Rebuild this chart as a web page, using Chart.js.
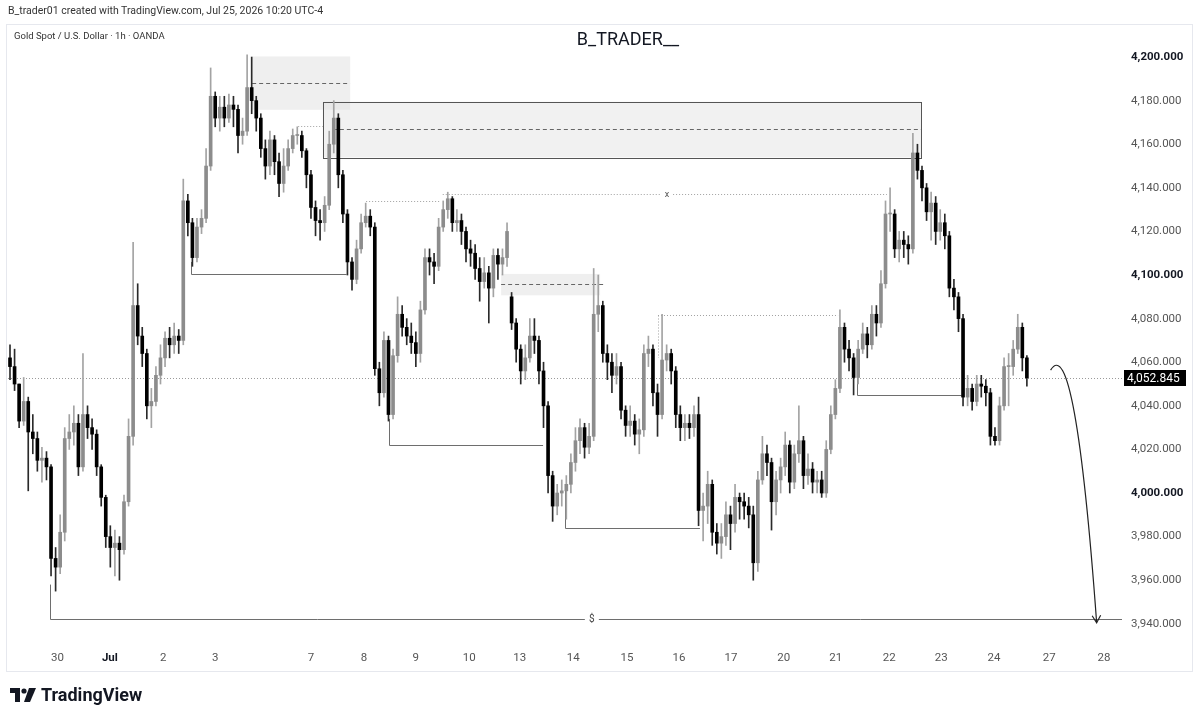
<!DOCTYPE html>
<html lang="en">
<head>
  <meta charset="UTF-8" />
  <title>XAUUSD 1h - B_TRADER__</title>
  <script src="https://cdn.jsdelivr.net/npm/chart.js@4.4.1/dist/chart.umd.min.js"></script>
  <style>
    body {
      margin: 0;
      background: #ffffff;
      font-family: Roboto, 'Noto Sans', sans-serif;
      color: #131722;
    }

    .page {
      position: relative;
      width: 1200px;
      height: 721px;
      overflow: hidden;
    }

    .frame {
      position: absolute;
      left: 6px;
      top: 24px;
      width: 1185px;
      height: 646px;
      border: 1px solid #e6e8ee;
    }

    #chart {
      position: absolute;
      left: 0;
      top: 0;
    }

    .credit {
      position: absolute;
      left: 8px;
      top: 4px;
      font-size: 10.5px;
      color: #333;
    }

    .symbol {
      position: absolute;
      left: 14px;
      top: 30px;
      font-size: 9.5px;
      color: #333;
    }

    .title {
      position: absolute;
      left: 528px;
      width: 200px;
      top: 28px;
      text-align: center;
      font-size: 18px;
      color: #131722;
    }

    .logo {
      position: absolute;
      left: 10px;
      top: 684px;
      display: flex;
      align-items: center;
      gap: 5px;
      font-size: 18px;
      font-weight: bold;
      color: #131722;
    }
  </style>
</head>
<body>
  <div class="page">
    <div class="frame"></div>
    <canvas id="chart" width="1200" height="721"></canvas>
    <div class="credit">B_trader01 created with TradingView.com, Jul 25, 2026 10:20 UTC-4</div>
    <div class="symbol">Gold Spot / U.S. Dollar · 1h · OANDA</div>
    <div class="title">B_TRADER__</div>
    <div class="logo">
      <svg width="26" height="14" viewBox="0 0 26 14">
        <path d="M0 0 H10 V14 H5 V5 H0 Z" fill="#131722"/>
        <circle cx="14" cy="3" r="2.6" fill="#131722"/>
        <path d="M19 0 H26 L20 14 H14 Z" fill="#131722"/>
      </svg>
      <span>TradingView</span>
    </div>
  </div>

  <script>
    // 2h candles (index 0 = first bar on the left)
    const opens = [
      4062, 4058, 4050, 4033, 4042, 4028, 4025, 4015, 4016, 4012, 3970, 3966,
      3982, 4025, 4028, 4032, 4012, 4036, 4030, 4027, 4012, 3998, 3980, 3975,
      3977, 3974, 3996, 4026, 4086, 4072, 4064, 4040, 4042, 4054, 4062, 4071,
      4068, 4072, 4070, 4134, 4124, 4108, 4122, 4126, 4150, 4182, 4172, 4177,
      4172, 4178, 4176, 4164, 4166, 4186, 4180, 4172, 4158, 4150, 4162, 4152,
      4142, 4150, 4158, 4164, 4164, 4157, 4146, 4131, 4125, 4124, 4132, 4160,
      4172, 4146, 4128, 4106, 4098, 4112, 4124, 4127, 4122, 4057, 4046, 4070,
      4036, 4063, 4082, 4076, 4072, 4069, 4064, 4084, 4108, 4106, 4104, 4122,
      4130, 4135, 4124, 4125, 4120, 4112, 4110, 4103, 4097, 4101, 4094, 4109,
      4105, 4108, 4090, 4078, 4066, 4056, 4062, 4072, 4070, 4056, 4040, 4008,
      3994, 4000, 4001, 4004, 4014, 4024, 4030, 4021, 4026, 4082, 4086, 4064,
      4060, 4054, 4058, 4038, 4031, 4033, 4027, 4029, 4064, 4066, 4046, 4036,
      4061, 4064, 4056, 4036, 4030, 4032, 4030, 4036, 3992, 3994, 4004, 3982,
      3977, 3980, 3990, 3986, 3998, 3996, 3994, 3990, 3968, 4006, 4018, 4014,
      3996, 4006, 4012, 4022, 4005, 4018, 4024, 4008, 4011, 4005, 4006, 4000,
      4020, 4036, 4048, 4076, 4066, 4062, 4053, 4066, 4073, 4068, 4082, 4078,
      4096, 4128, 4128, 4112, 4116, 4114, 4112, 4156, 4148, 4140, 4129, 4133,
      4120, 4124, 4118, 4094, 4090, 4080, 4044, 4048, 4042, 4050, 4049, 4046,
      4026, 4024, 4040, 4058, 4058, 4066, 4076, 4062
    ];
    const closes = [
      4058, 4050, 4033, 4042, 4028, 4025, 4015, 4016, 4012, 3970, 3966, 3982,
      4025, 4028, 4032, 4012, 4036, 4030, 4027, 4012, 3998, 3980, 3975, 3977,
      3974, 3996, 4026, 4086, 4072, 4064, 4040, 4042, 4054, 4062, 4071, 4068,
      4072, 4070, 4134, 4124, 4108, 4122, 4126, 4150, 4182, 4172, 4177, 4172,
      4178, 4176, 4164, 4166, 4186, 4180, 4172, 4158, 4150, 4162, 4152, 4142,
      4150, 4158, 4164, 4164, 4157, 4146, 4131, 4125, 4124, 4132, 4160, 4172,
      4146, 4128, 4106, 4098, 4112, 4124, 4127, 4122, 4057, 4046, 4070, 4036,
      4063, 4082, 4076, 4072, 4069, 4064, 4084, 4108, 4106, 4104, 4122, 4130,
      4135, 4124, 4125, 4120, 4112, 4110, 4103, 4097, 4101, 4094, 4109, 4105,
      4108, 4120, 4078, 4066, 4056, 4062, 4072, 4070, 4056, 4040, 4008, 3994,
      4000, 4001, 4004, 4014, 4024, 4030, 4021, 4026, 4082, 4086, 4064, 4060,
      4054, 4058, 4038, 4031, 4033, 4027, 4029, 4064, 4066, 4046, 4036, 4061,
      4064, 4056, 4036, 4030, 4032, 4030, 4036, 3992, 3994, 4004, 3982, 3977,
      3980, 3990, 3986, 3998, 3996, 3994, 3990, 3968, 4006, 4018, 4014, 3996,
      4006, 4012, 4022, 4005, 4018, 4024, 4008, 4011, 4005, 4006, 4000, 4020,
      4036, 4048, 4076, 4066, 4062, 4053, 4066, 4073, 4068, 4082, 4078, 4096,
      4128, 4128, 4112, 4116, 4114, 4112, 4156, 4148, 4140, 4129, 4133, 4120,
      4124, 4118, 4094, 4090, 4080, 4044, 4048, 4042, 4050, 4049, 4046, 4026,
      4024, 4040, 4058, 4058, 4066, 4076, 4062, 4052.845
    ];
    const highs = [
      4068, 4066, 4050, 4053, 4044, 4036, 4028, 4021, 4019, 4013, 3975, 3990,
      4030, 4036, 4040, 4036, 4064, 4040, 4034, 4029, 4013, 3999, 3985, 3983,
      3980, 3999, 4034, 4115, 4096, 4076, 4066, 4048, 4058, 4068, 4074, 4076,
      4078, 4075, 4144, 4137, 4126, 4126, 4130, 4158, 4195, 4184, 4182, 4182,
      4183, 4182, 4178, 4172, 4201, 4200, 4182, 4174, 4162, 4166, 4164, 4156,
      4158, 4162, 4167, 4168, 4166, 4158, 4148, 4134, 4130, 4136, 4166, 4180,
      4174, 4148, 4130, 4108, 4116, 4128, 4133, 4130, 4124, 4060, 4074, 4072,
      4066, 4090, 4086, 4080, 4078, 4074, 4088, 4112, 4112, 4110, 4126, 4134,
      4138, 4136, 4130, 4128, 4122, 4116, 4114, 4108, 4108, 4104, 4112, 4112,
      4112, 4124, 4092, 4080, 4068, 4068, 4080, 4080, 4072, 4060, 4042, 4010,
      4004, 4006, 4008, 4018, 4030, 4034, 4032, 4032, 4103, 4100, 4088, 4068,
      4064, 4064, 4060, 4040, 4040, 4036, 4034, 4068, 4072, 4068, 4050, 4082,
      4068, 4066, 4058, 4040, 4036, 4036, 4040, 4044, 4000, 4010, 4006, 3986,
      3986, 3996, 3994, 4004, 4000, 4000, 3998, 3994, 4010, 4026, 4022, 4016,
      4010, 4016, 4028, 4024, 4022, 4040, 4026, 4018, 4014, 4010, 4010, 4024,
      4040, 4052, 4084, 4078, 4070, 4064, 4070, 4078, 4076, 4086, 4086, 4102,
      4134, 4140, 4130, 4120, 4120, 4118, 4165, 4160, 4150, 4142, 4138, 4136,
      4130, 4128, 4120, 4098, 4092, 4082, 4054, 4050, 4054, 4054, 4052, 4048,
      4030, 4044, 4062, 4064, 4070, 4082, 4078, 4063
    ];
    const lows = [
      4052, 4047, 4030, 4031, 4001, 4018, 4010, 4005, 4006, 3962, 3955, 3963,
      3978, 4020, 4022, 4008, 4010, 4025, 4020, 4008, 3994, 3975, 3966, 3962,
      3960, 3972, 3994, 4022, 4068, 4058, 4034, 4030, 4040, 4050, 4058, 4062,
      4064, 4064, 4068, 4118, 4104, 4106, 4119, 4124, 4148, 4168, 4166, 4168,
      4170, 4168, 4156, 4160, 4164, 4174, 4166, 4154, 4144, 4146, 4146, 4136,
      4138, 4148, 4156, 4160, 4154, 4140, 4126, 4118, 4116, 4120, 4130, 4156,
      4140, 4124, 4100, 4093, 4096, 4110, 4122, 4118, 4054, 4040, 4044, 4033,
      4034, 4060, 4072, 4068, 4064, 4058, 4060, 4082, 4100, 4096, 4102, 4120,
      4126, 4120, 4120, 4114, 4106, 4104, 4098, 4088, 4094, 4078, 4090, 4098,
      4100, 4104, 4075, 4060, 4050, 4052, 4060, 4064, 4050, 4030, 4000, 3987,
      3990, 3994, 3988, 4000, 4010, 4018, 4016, 4018, 4024, 4074, 4060, 4052,
      4046, 4050, 4034, 4026, 4026, 4022, 4018, 4026, 4058, 4040, 4026, 4034,
      4056, 4050, 4030, 4024, 4024, 4025, 4026, 3985, 3978, 3986, 3976, 3972,
      3970, 3976, 3974, 3982, 3988, 3988, 3984, 3960, 3964, 4004, 4008, 3983,
      3990, 4000, 4008, 4000, 4002, 4014, 4002, 4004, 4000, 4000, 3998, 3998,
      4018, 4034, 4046, 4060, 4056, 4045, 4050, 4064, 4062, 4066, 4072, 4076,
      4094, 4120, 4108, 4106, 4108, 4105, 4110, 4144, 4134, 4125, 4116, 4114,
      4116, 4112, 4090, 4084, 4074, 4040, 4040, 4038, 4040, 4044, 4040, 4022,
      4022, 4022, 4038, 4040, 4054, 4064, 4056, 4049
    ];

    // time axis: bar index where each day label sits
    const dayTickIdx = [10.4, 21.9, 33.6, 45, 66, 77.6, 89, 100.7, 111.8, 123.5,
      135.3, 146.7, 158.1, 169.7, 181.1, 192.8, 204.2, 215.8, 227.9, 239.9];
    const dayLabels = ['30', 'Jul', '2', '3', '7', '8', '9', '10', '13', '14',
      '15', '16', '17', '20', '21', '22', '23', '24', '27', '28'];

    // price axis
    const priceTicks = [3940, 3960, 3980, 4000, 4020, 4040, 4060, 4080, 4100,
      4120, 4140, 4160, 4180, 4200];
    const boldPrices = [4000, 4100, 4200];
    const lastPrice = 4052.845;

    // drawings on the chart (bar index from/to, price)
    const zones = [
      { from: 53.1, to: 74.6, top: 4200.3, bottom: 4175.8, mid: 4188.1, midTo: 74.6, border: false },
      { from: 68.6, to: 199.8, top: 4179.5, bottom: 4154, mid: 4166.8, midFrom: 70.8, midTo: 199.8, border: true },
      { from: 107.7, to: 129.4, top: 4100.5, bottom: 4090.7, mid: 4095.9, midTo: 130.3, border: false }
    ];
    const lowLines = [
      { at: 39.6, from: 4106, price: 4100.3, to: 73.8 },
      { at: 83.1, from: 4034, price: 4022.2, to: 116.9 },
      { at: 121.7, from: 4001, price: 3983.8, to: 151.3 },
      { at: 185.7, from: 4053, price: 4045.1, to: 208.7 }
    ];
    const dottedLines = [
      { from: 63.2, to: 68.6, price: 4168.5 },
      { from: 78.1, to: 94.3, price: 4134 },
      { from: 94.9, to: 192.3, price: 4137.4, text: 'x', textAt: 144.1 },
      { from: 142.1, to: 181.6, price: 4081.7, dropTo: 4062 }
    ];
    const targetLine = { at: 8.8, from: 3958, price: 3942, text: '$', textAt: 127.6 };
    const arrowPath = { start: [228.2, 4056.4], ctrl: [233.6, 4074.8], end: [238.3, 3940.5] };

    const idx = closes.map((c, i) => i);
    const isUp = i => closes[i] >= opens[i];
    const fmt = v => v.toLocaleString('en-US', { minimumFractionDigits: 3, maximumFractionDigits: 3 });

    const drawings = {
      id: 'drawings',
      beforeDatasetsDraw(chart) {
        const { ctx, chartArea, scales: { x, y } } = chart;
        ctx.save();
        ctx.beginPath();
        ctx.rect(chartArea.left, chartArea.top, chartArea.right - chartArea.left, chartArea.bottom - chartArea.top);
        ctx.clip();

        // current price line
        ctx.strokeStyle = '#9a9a9a';
        ctx.lineWidth = 1;
        ctx.setLineDash([1, 2]);
        const py = Math.round(y.getPixelForValue(lastPrice)) + 0.5;
        ctx.beginPath();
        ctx.moveTo(chartArea.left, py);
        ctx.lineTo(chartArea.right, py);
        ctx.stroke();

        // zones
        zones.forEach(z => {
          const x0 = x.getPixelForValue(z.from), x1 = x.getPixelForValue(z.to);
          const y0 = y.getPixelForValue(z.top), y1 = y.getPixelForValue(z.bottom);
          ctx.setLineDash([]);
          ctx.fillStyle = z.border ? 'rgba(225,225,225,0.45)' : 'rgba(225,225,225,0.55)';
          ctx.fillRect(x0, y0, x1 - x0, y1 - y0);
          if (z.border) {
            ctx.strokeStyle = '#555';
            ctx.strokeRect(Math.round(x0) + 0.5, Math.round(y0) + 0.5, Math.round(x1 - x0), Math.round(y1 - y0));
          }
          ctx.strokeStyle = '#666';
          ctx.setLineDash([4, 3]);
          const my = Math.round(y.getPixelForValue(z.mid)) + 0.5;
          ctx.beginPath();
          ctx.moveTo(x.getPixelForValue(z.midFrom ?? z.from), my);
          ctx.lineTo(x.getPixelForValue(z.midTo), my);
          ctx.stroke();
        });

        // dotted levels
        ctx.strokeStyle = '#a0a0a0';
        ctx.setLineDash([1, 2]);
        dottedLines.forEach(l => {
          const ly = Math.round(y.getPixelForValue(l.price)) + 0.5;
          const lx0 = x.getPixelForValue(l.from), lx1 = x.getPixelForValue(l.to);
          ctx.beginPath();
          if (l.text) {
            const tx = x.getPixelForValue(l.textAt);
            ctx.moveTo(lx0, ly); ctx.lineTo(tx - 6, ly);
            ctx.moveTo(tx + 6, ly); ctx.lineTo(lx1, ly);
          } else {
            ctx.moveTo(lx0, ly); ctx.lineTo(lx1, ly);
          }
          if (l.dropTo) {
            ctx.moveTo(Math.round(lx0) + 0.5, ly);
            ctx.lineTo(Math.round(lx0) + 0.5, y.getPixelForValue(l.dropTo));
          }
          ctx.stroke();
          if (l.text) {
            ctx.fillStyle = '#555';
            ctx.font = '9px Roboto';
            ctx.textAlign = 'center';
            ctx.textBaseline = 'middle';
            ctx.fillText(l.text, x.getPixelForValue(l.textAt), ly);
          }
        });

        // swing low lines
        ctx.setLineDash([]);
        ctx.strokeStyle = '#6e6e6e';
        lowLines.concat([targetLine]).forEach(l => {
          const lx = Math.round(x.getPixelForValue(l.at)) + 0.5;
          const ly = Math.round(y.getPixelForValue(l.price)) + 0.5;
          const lx1 = l.to !== undefined ? x.getPixelForValue(l.to) : chartArea.right;
          ctx.beginPath();
          ctx.moveTo(lx, y.getPixelForValue(l.from));
          ctx.lineTo(lx, ly);
          if (l.text) {
            const tx = x.getPixelForValue(l.textAt);
            ctx.lineTo(tx - 7, ly);
            ctx.moveTo(tx + 7, ly);
          }
          ctx.lineTo(lx1, ly);
          ctx.stroke();
          if (l.text) {
            ctx.fillStyle = '#444';
            ctx.font = '10px Roboto';
            ctx.textAlign = 'center';
            ctx.textBaseline = 'middle';
            ctx.fillText(l.text, x.getPixelForValue(l.textAt), ly);
          }
        });
        ctx.restore();
      },
      afterDraw(chart) {
        const { ctx, chartArea, scales: { x, y } } = chart;
        ctx.save();
        // projected move arrow
        const p = v => [x.getPixelForValue(v[0]), y.getPixelForValue(v[1])];
        const s = p(arrowPath.start), c = p(arrowPath.ctrl), e = p(arrowPath.end);
        ctx.strokeStyle = '#222';
        ctx.lineWidth = 1.2;
        ctx.beginPath();
        ctx.moveTo(s[0], s[1]);
        ctx.quadraticCurveTo(c[0], c[1], e[0], e[1]);
        ctx.moveTo(e[0] - 4.5, e[1] - 7);
        ctx.lineTo(e[0], e[1]);
        ctx.lineTo(e[0] + 4, e[1] - 7.5);
        ctx.stroke();

        // last price tag
        const py = y.getPixelForValue(lastPrice);
        ctx.fillStyle = '#000';
        ctx.fillRect(chartArea.right + 2, Math.round(py) - 8, 62, 16);
        ctx.fillStyle = '#fff';
        ctx.font = '12px Roboto';
        ctx.textAlign = 'left';
        ctx.textBaseline = 'middle';
        ctx.fillText(fmt(lastPrice), chartArea.right + 5, Math.round(py) + 0.5);
        ctx.restore();
      }
    };

    const chart = new Chart(document.getElementById('chart'), {
      type: 'bar',
      data: {
        datasets: [
          {
            label: 'wick',
            data: idx.map(i => ({ x: i, y: [lows[i], highs[i]] })),
            backgroundColor: idx.map(i => isUp(i) ? '#a3a3a3' : '#2a2a2a'),
            barThickness: 1,
            grouped: false,
            order: 2
          },
          {
            label: 'body',
            data: idx.map(i => ({ x: i, y: [Math.min(opens[i], closes[i]), Math.max(opens[i], closes[i])] })),
            backgroundColor: idx.map(i => isUp(i) ? '#8c8c8c' : '#000000'),
            barThickness: 3,
            minBarLength: 1,
            grouped: false,
            order: 1
          }
        ]
      },
      options: {
        responsive: false,
        animation: false,
        events: [],
        layout: { padding: { left: 8, top: 25, right: 8, bottom: 50 } },
        plugins: { legend: { display: false }, tooltip: { enabled: false } },
        scales: {
          x: {
            type: 'linear',
            offset: false,
            min: -0.44,
            max: 243.86,
            grid: { display: false, drawTicks: false },
            border: { display: false },
            afterBuildTicks: s => { s.ticks = dayTickIdx.map(v => ({ value: v })); },
            afterFit: s => { s.height = 28; },
            ticks: {
              autoSkip: false,
              maxRotation: 0,
              padding: 8,
              callback: v => dayLabels[dayTickIdx.indexOf(v)],
              color: c => c.tick && c.tick.label === 'Jul' ? '#131722' : '#555',
              font: c => ({ family: 'Roboto', size: 11.5, weight: c.tick && c.tick.label === 'Jul' ? 'bold' : 'normal' })
            }
          },
          y: {
            position: 'right',
            min: 3931.2,
            max: 4214.7,
            grid: { display: false, drawTicks: false },
            border: { display: false },
            afterBuildTicks: s => { s.ticks = priceTicks.map(v => ({ value: v })); },
            afterFit: s => { s.width = 70; },
            ticks: {
              padding: 9,
              callback: v => fmt(v),
              color: c => boldPrices.includes(c.tick && c.tick.value) ? '#131722' : '#555',
              font: c => ({ family: 'Roboto', size: 11.5, weight: boldPrices.includes(c.tick && c.tick.value) ? 'bold' : 'normal' })
            }
          }
        }
      },
      plugins: [drawings]
    });
  </script>
</body>
</html>
